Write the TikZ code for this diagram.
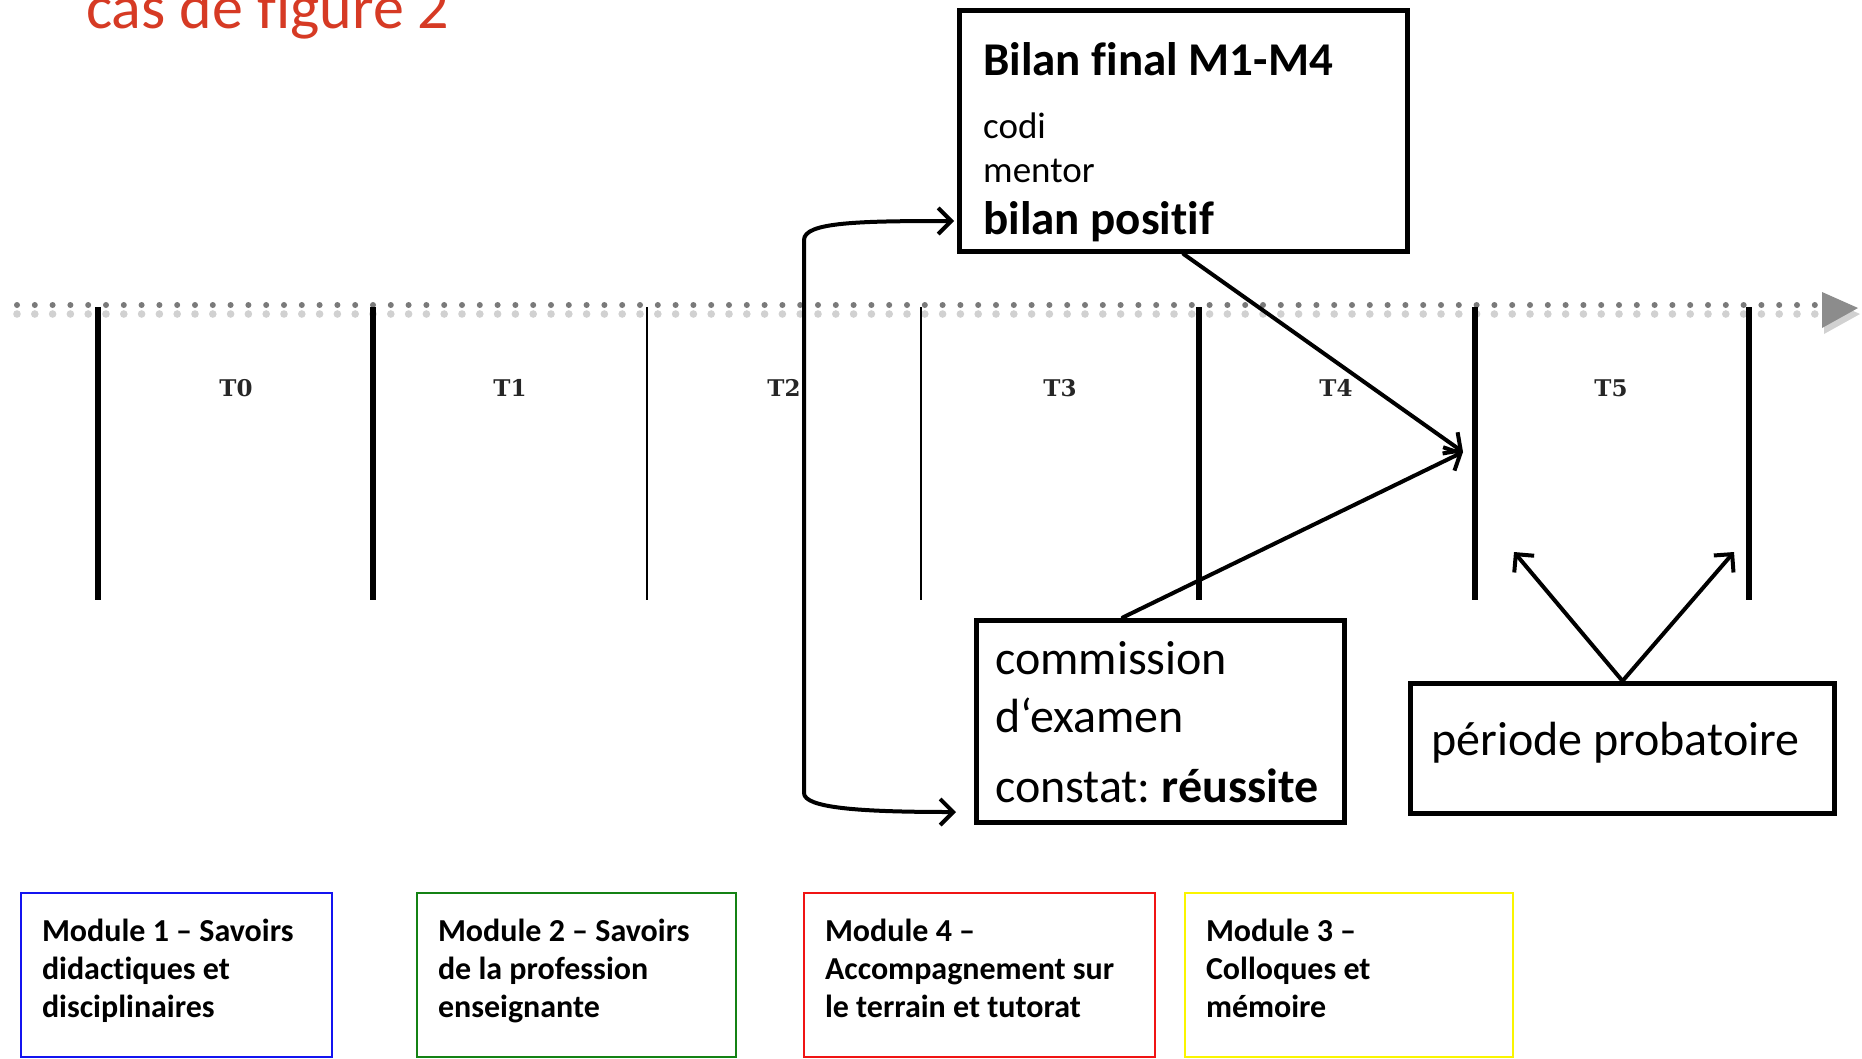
\documentclass[tikz,border=0pt]{standalone}
\usepackage{fontspec}
\setmainfont{Carlito}[Ligatures=NoCommon]
\newfontfamily\tfont{DejaVu Serif}
\usetikzlibrary{arrows.meta,calc}
\definecolor{titlered}{RGB}{214,58,36}
\definecolor{modblue}{RGB}{20,20,240}
\definecolor{modgreen}{RGB}{20,130,20}
\definecolor{modred}{RGB}{240,20,20}
\definecolor{modyellow}{RGB}{250,245,0}
% use the font's own word spaces inside aligned nodes
\newcommand\natspace{\spaceskip=0pt\xspaceskip=0pt}
% fixed depth for the last line of module texts
\newcommand\lastdepth{\rule[-14pt]{0pt}{1pt}}
\frenchspacing
\begin{document}
\begin{tikzpicture}[x=1pt,y=-1pt,
  box/.style={draw=black,line width=5pt,rectangle,inner sep=0pt,anchor=north west},
  modbox/.style={draw=#1,line width=2pt,rectangle,anchor=north west,align=left,
    inner xsep=21pt,inner ysep=0pt,text width=300pt,minimum height=164pt,
    font=\bfseries\fontsize{32}{38}\selectfont},
  txt/.style={anchor=base west,inner sep=0pt},
  tlabel/.style={inner sep=0pt,text=black!85,font=\tfont\bfseries\fontsize{23}{28}\selectfont},
  tickthick/.style={line width=6pt},
  tickthin/.style={line width=2pt},
  conn/.style={line width=4pt,line cap=round,line join=round},
  tip/.style={-{Straight Barb[length=13pt,width=26pt,line width=4pt]}},
]
\useasboundingbox[fill=white] (0,0) rectangle (1862,1058);

% title
\node[txt,text=titlered,font=\fontsize{62}{62}\selectfont] (title) at (86,28) {cas de figure 2};

% dotted time axis with its soft shadow
\foreach \i in {0,...,101} {
  \fill[black!18] (17+\i*17.8,314) circle (3.8pt);
  \fill[black!52] (17+\i*17.8,305) circle (3pt);
}
\fill[black!18] (1824,298) -- (1860,314) -- (1824,334) -- cycle;
\fill[black!45] (1822,292) -- (1858,308) -- (1822,328) -- cycle;

% period boundaries
\draw[tickthick] (98,307) -- (98,600);
\draw[tickthick] (373,307) -- (373,600);
\draw[tickthin] (647,307) -- (647,600);
\draw[tickthin] (921,307) -- (921,600);
\draw[tickthick] (1199,307) -- (1199,600);
\draw[tickthick] (1475,307) -- (1475,600);
\draw[tickthick] (1749,307) -- (1749,600);

% period labels
\node[tlabel] (t0) at (236,388) {T0};
\node[tlabel] (t1) at (510,388) {T1};
\node[tlabel] (t2) at (784,388) {T2};
\node[tlabel] (t3) at (1060,388) {T3};
\node[tlabel] (t4) at (1336,388) {T4};
\node[tlabel] (t5) at (1611,388) {T5};

% final assessment box
\node[box,minimum width=448pt,minimum height=241pt] (bilan) at (957,8) {};
\node[txt,font=\bfseries\fontsize{47}{54}\selectfont] (bilanT) at (983,75) {Bilan final M1-M4};
\node[txt,font=\fontsize{37}{44}\selectfont] (codi) at (983,138) {codi};
\node[txt,font=\fontsize{37}{44}\selectfont] (mentor) at (983,182) {mentor};
\node[txt,font=\bfseries\fontsize{47}{54}\selectfont] (positif) at (983,234) {bilan positif};

% examination board box
\node[box,minimum width=368pt,minimum height=202pt] (comm) at (973.5,617.5) {};
\node[txt,font=\fontsize{48}{56}\selectfont] (comm1) at (995,674) {commission};
\node[txt,font=\fontsize{48}{56}\selectfont] (comm2) at (995,732) {d‘examen};
\node[txt,font=\fontsize{48}{56}\selectfont] (comm3) at (995,802) {constat: \textbf{réussite}};

% probation box
\node[box,minimum width=424pt,minimum height=130pt] (prob) at (1408,681) {};
\node[txt,font=\fontsize{48}{56}\selectfont] (probT) at (1431,755) {période probatoire};

% connector end points
\coordinate (bilanIn) at (954,221);
\coordinate (commIn) at (956,812);
\coordinate (meet) at (1463,452);
\coordinate (probL) at (1514,552);
\coordinate (probR) at (1734,552);

% connectors
\draw[conn,{Straight Barb[length=13pt,width=26pt,line width=4pt]}-{Straight Barb[length=13pt,width=26pt,line width=4pt]}]
  (bilanIn) .. controls (860,221) and (804,222) .. (804,240) -- (804,793)
  .. controls (804,808) and (860,812) .. (commIn);
\draw[conn,tip] (bilan.south) -- (meet);
\draw[conn,tip] ($(comm.north west)!0.4!(comm.north east)$) -- (meet);
\draw[conn,tip] (prob.north) -- (probL);
\draw[conn,tip] (prob.north) -- (probR);

% module boxes
\node[modbox=modblue,text width=269pt] (m1) at (20,892)
  {\natspace Module 1 – Savoirs\\didactiques et\\disciplinaires\lastdepth};
\node[modbox=modgreen,text width=277pt] (m2) at (416,892)
  {\natspace Module 2 – Savoirs\\de la profession\\enseignante\lastdepth};
\node[modbox=modred,text width=309pt] (m4) at (803,892)
  {\natspace Module 4 –\\Accompagnement sur\\le terrain et tutorat\lastdepth};
\node[modbox=modyellow,text width=286pt] (m3) at (1184,892)
  {\natspace Module 3 –\\Colloques et\\mémoire\lastdepth};
\end{tikzpicture}
\end{document}
